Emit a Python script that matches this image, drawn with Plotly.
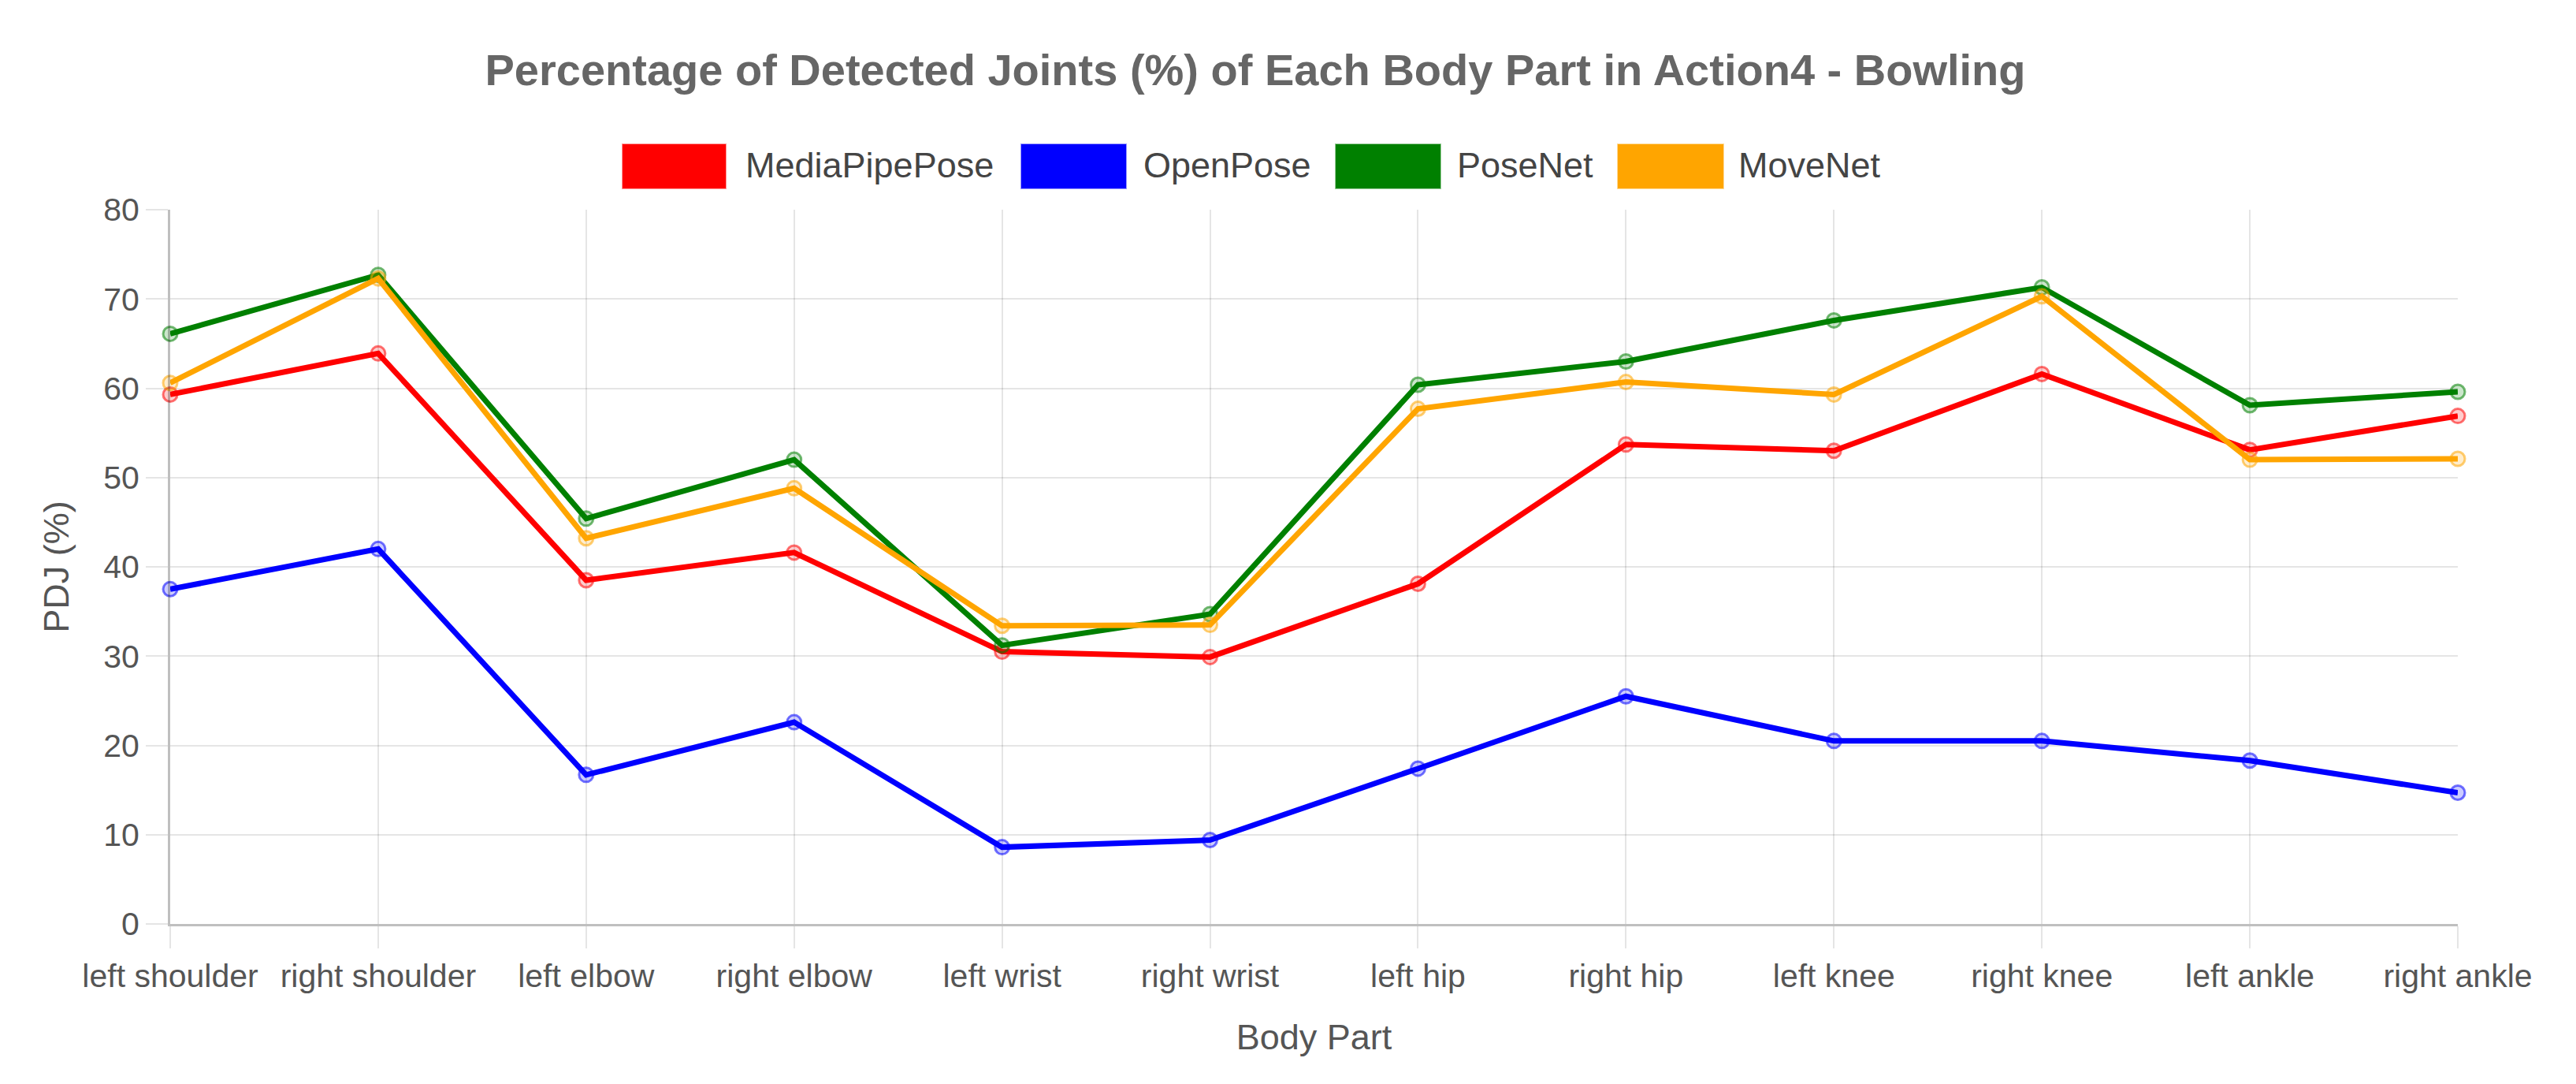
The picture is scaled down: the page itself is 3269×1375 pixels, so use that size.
import plotly.graph_objects as go

body_parts = ["left shoulder", "right shoulder", "left elbow", "right elbow", "left wrist",
              "right wrist", "left hip", "right hip", "left knee", "right knee",
              "left ankle", "right ankle"]

mediapipe = [59.3, 63.9, 38.5, 41.6, 30.5, 29.9, 38.1, 53.7, 53.0, 61.6, 53.1, 56.9]
openpose = [37.5, 42.0, 16.7, 22.6, 8.6, 9.4, 17.4, 25.5, 20.5, 20.5, 18.3, 14.7]
posenet = [66.1, 72.7, 45.4, 52.0, 31.2, 34.7, 60.4, 63.0, 67.6, 71.3, 58.1, 59.6]
movenet = [60.6, 72.3, 43.2, 48.8, 33.4, 33.5, 57.7, 60.7, 59.3, 70.3, 52.0, 52.1]

series_names = ["MediaPipePose", "OpenPose", "PoseNet", "MoveNet"]
series_values = [mediapipe, openpose, posenet, movenet]
series_rgb = [(255, 0, 0), (0, 0, 255), (0, 128, 0), (255, 165, 0)]

W, H = 3269, 1375
L, R, T, B = 208, 3269 - 3111, 258, 1375 - 1164
plot_w = W - L - R
plot_h = H - T - B

FONT = "Liberation Sans, Arial, Helvetica, sans-serif"
TXT = "#555"
LEG_TXT = "#444"

fig = go.Figure()
for name, vals, (r, g, b) in zip(series_names, series_values, series_rgb):
    fig.add_trace(go.Scatter(
        x=body_parts, y=vals, name=name, mode="lines+markers",
        line=dict(color=f"rgb({r},{g},{b})", width=7),
        marker=dict(size=18, color=f"rgba({r},{g},{b},0.2)",
                    line=dict(color=f"rgba({r},{g},{b},0.55)", width=3)),
        showlegend=False, cliponaxis=False,
    ))

def px_x(p):
    return (p - L) / plot_w

def px_y(p):
    return (H - B - p) / plot_h

# custom legend (large rectangular swatches like the original)
legend_boxes = [(782, 913, 936), (1288, 1421, 1441), (1687, 1820, 1839), (2045, 2179, 2196)]
shapes = []
annotations = []
for (bx0, bx1, tx), name, (r, g, b) in zip(legend_boxes, series_names, series_rgb):
    shapes.append(dict(type="rect", xref="paper", yref="paper",
                       x0=px_x(bx0), x1=px_x(bx1), y0=px_y(231), y1=px_y(175),
                       fillcolor=f"rgb({r},{g},{b})",
                       line=dict(color=f"rgba({r},{g},{b},0.4)", width=2)))
    annotations.append(dict(text=name, xref="paper", yref="paper", x=px_x(tx), y=px_y(202),
                            xanchor="left", yanchor="middle", showarrow=False,
                            font=dict(family=FONT, size=45, color=LEG_TXT)))

fig.update_layout(
    width=W, height=H,
    margin=dict(l=L, r=R, t=T, b=B, autoexpand=False),
    paper_bgcolor="white", plot_bgcolor="white",
    title=dict(text="<b>Percentage of Detected Joints (%) of Each Body Part in Action4 - Bowling</b>",
               x=1585 / W, xref="container", xanchor="center",
               y=1 - 80 / H, yref="container", yanchor="middle",
               font=dict(family=FONT, size=56, color="#666")),
    shapes=shapes, annotations=annotations,
    xaxis=dict(type="category", range=[0, len(body_parts) - 1],
               showgrid=True, gridcolor="rgba(0,0,0,0.1)", gridwidth=2,
               showline=True, linecolor="rgba(0,0,0,0.25)", linewidth=3,
               ticks="outside", ticklen=28, tickwidth=2, tickcolor="rgba(0,0,0,0.1)",
               tickfont=dict(family=FONT, size=41, color=TXT),
               title=dict(text="Body Part", font=dict(family=FONT, size=45, color=TXT), standoff=40),
               zeroline=False),
    yaxis=dict(range=[0, 80], dtick=10, tick0=0,
               showgrid=True, gridcolor="rgba(0,0,0,0.1)", gridwidth=2,
               showline=True, linecolor="rgba(0,0,0,0.25)", linewidth=3,
               ticks="outside", ticklen=28, tickwidth=2, tickcolor="rgba(0,0,0,0.1)",
               tickfont=dict(family=FONT, size=41, color=TXT),
               title=dict(text="PDJ (%)", font=dict(family=FONT, size=45, color=TXT), standoff=30),
               zeroline=False),
)

fig.write_html("out.html")
